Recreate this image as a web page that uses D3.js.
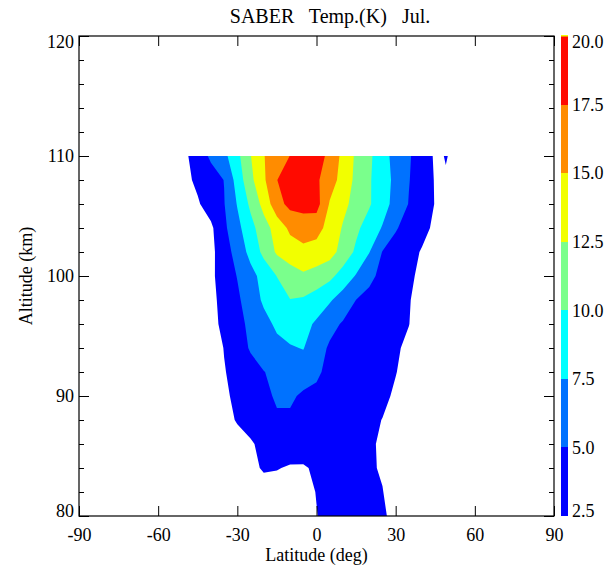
<!DOCTYPE html>
<html><head><meta charset="utf-8">
<script src="https://cdn.jsdelivr.net/npm/d3@7"></script>
<style>
body{margin:0;background:#fff}
svg{display:block}
text{font-family:"Liberation Serif","Times New Roman",serif;fill:#000}
</style>
</head><body>
<svg id="chart" width="612" height="571"></svg>
<script>
// ---- data ----
const title = "SABER   Temp.(K)   Jul.";
const xLabel = "Latitude (deg)";
const yLabel = "Altitude (km)";
// grid nodes
const lats = [-60,-50,-45,-40,-35,-30,-25,-20,-15,-10,-5,0,5,10,15,20,25,30,35,40,45,47,49,51,60];
const alts = [110,108,106,104,102,100,98,96,94,92,90,88,86,84,82,80];
// temperature amplitude (K), one row per altitude (top to bottom), one value per latitude
const row110 = [0,2.0,3.75,5.4,6.85,9.35,12.4,14.9,16.25,17.55,19.0,18.9,16.7,14.4,12.1,10.5,8.4,6.7,5.25,3.75,2.2,2.0,2.8,2.0,0];
const row108 = [0,1.9,2.97,3.98,5.05,8.5,11.85,14.6,17.45,19.0,19.5,17.9,16.1,14.1,11.9,10.25,8.6,6.9,5.1,3.7,2.35,1.8,2.0,1.5,0];
const row106 = [0,0.9,2.25,3.6,4.9,7.65,10.5,13.3,16.6,18.2,18.3,18.45,14.8,13.15,11.65,10.25,8.5,6.65,4.9,3.65,2.4,1.5,1.0,1.0,0];
const row104 = [0,0.3,1.0,2.06,4.5,6.8,9.15,11.45,13.55,15.5,16.3,15.9,14.1,12.3,10.5,8.9,7.33,5.2,4.1,3.1,2.1,1.2,0.8,0.5,0];
const row102 = [0,0.2,0.8,1.9,3.87,5.94,8.24,10.63,12.85,13.8,14.3,14.0,13.5,11.55,9.56,7.58,4.9,4.05,3.19,2.33,1.3,0.8,0.5,0.3,0];
const row100 = [0,0.2,0.8,2.04,3.57,5.1,6.7,8.35,10.05,11.3,12.1,11.5,10.63,8.98,7.32,5.51,4.43,3.64,2.85,2.06,1.2,0.7,0.4,0.2,0];
const row98  = [0,0.2,0.8,1.91,3.24,4.57,6.27,7.86,8.93,9.95,9.7,8.9,7.78,6.39,4.98,4.4,3.8,3.2,2.6,1.9,1.1,0.6,0.3,0.2,0];
const row96  = [0,0.2,0.7,1.8,3.04,4.28,5.52,6.78,7.9,8.6,8.3,7.13,5.71,4.78,4.33,3.88,3.43,2.98,2.53,1.8,1.0,0.5,0.3,0.1,0];
const row94  = [0,0.1,0.5,1.25,2.58,3.83,5.24,6.2,6.9,7.3,7.6,6.0,4.7,4.45,4.0,3.57,3.13,2.69,2.2,1.5,0.8,0.4,0.2,0.1,0];
const row92  = [0,0,0.5,1.5,2.38,3.23,4.08,4.93,5.6,6.2,6.3,5.6,4.02,3.8,3.5,3.2,2.9,2.55,2.0,1.3,0.6,0.3,0.1,0.1,0];
const row90  = [0,0,0.4,1.3,2.17,2.93,3.69,4.45,5.3,5.4,4.6,4.2,3.9,3.6,3.3,3.0,2.8,2.3,1.6,1.0,0.5,0.2,0.1,0,0];
const row88  = [0,0,0.3,0.8,1.7,2.7,3.5,4.2,4.7,4.6,4.2,3.9,3.6,3.3,3.0,2.8,2.47,1.8,1.2,0.6,0.2,0.1,0,0,0];
const row86  = [0,0,0.2,0.5,1.0,1.6,2.2,3.2,3.6,3.7,3.6,3.5,3.3,3.1,2.9,2.7,2.3,1.6,1.0,0.5,0.2,0,0,0,0];
const row84  = [0,0,0,0.2,0.5,1.0,1.8,2.8,2.6,2.3,2.3,2.8,3.0,3.0,2.9,2.7,2.35,1.5,0.8,0.3,0.1,0,0,0,0];
const row82  = [0,0,0,0,0.2,0.6,1.0,1.3,1.6,1.9,2.0,2.55,3.0,3.1,3.0,2.8,2.55,1.8,1.0,0.4,0.1,0,0,0,0];
const row80  = [0,0,0,0,0.1,0.5,0.8,1.0,1.2,1.3,1.5,2.45,3.0,3.1,3.1,2.9,2.65,2.2,1.3,0.6,0.2,0,0,0,0];
const grid = [row110,row108,row106,row104,row102,row100,row98,row96,row94,row92,row90,row88,row86,row84,row82,row80];

const levels = [2.5,5,7.5,10,12.5,15,17.5,20];
const levelColors = ["#0000ff","#0072ff","#00ffff","#7aff8c","#f2ff00","#ff8c00","#ff0a00"];
const topColor = "#f2ff00";
const xTicks = [-90,-60,-30,0,30,60,90];
const yTicks = [80,90,100,110,120];
const yMinor = [82,84,86,88,92,94,96,98,102,104,106,108,112,114,116,118];

// ---- layout ----
const PL = 79, PR = 554, PT = 36, PB = 516;
const svg = d3.select("#chart");
const x = d3.scaleLinear().domain([-90,90]).range([PL,PR]);
const y = d3.scaleLinear().domain([80,120]).range([PB,PT]);

// ---- contours ----
const nx = lats.length, ny = alts.length;
const colToLat = d3.scaleLinear().domain(lats.map((d,i)=>i+0.5)).range(lats);
const rowToAlt = d3.scaleLinear().domain(alts.map((d,i)=>i+0.5)).range(alts);
const flat = grid.flat();
const contourSet = d3.contours().size([nx,ny]).thresholds(levels.slice(0,7))(flat);
const proj = d3.geoTransform({point(px,py){ this.stream.point(x(colToLat(px)), y(rowToAlt(py))); }});
const path = d3.geoPath(proj);

svg.append("defs").append("clipPath").attr("id","clip")
  .append("rect").attr("x",PL).attr("y",y(110)).attr("width",PR-PL).attr("height",y(80)-y(110));

svg.append("g").attr("clip-path","url(#clip)")
  .selectAll("path").data(contourSet).join("path")
  .attr("d",path)
  .attr("fill",(d,i)=>levelColors[i])
  .attr("stroke","none");

// ---- axes ----
const fmtInt = d => String(d);
const axG = svg.append("g");
const axBottom = d3.axisBottom(x).tickValues(xTicks).tickSizeInner(-10).tickSizeOuter(0).tickPadding(12).tickFormat(fmtInt);
const axTop = d3.axisTop(x).tickValues(xTicks).tickSizeInner(-10).tickSizeOuter(0).tickFormat("");
const axLeft = d3.axisLeft(y).tickValues(yTicks).tickSizeInner(-10).tickSizeOuter(0).tickPadding(5).tickFormat(fmtInt);
const axLeftMinor = d3.axisLeft(y).tickValues(yMinor).tickSizeInner(-5).tickSizeOuter(0).tickFormat("");
const axRight = d3.axisRight(y).tickValues(yTicks).tickSizeInner(-10).tickSizeOuter(0).tickFormat("");
const axRightMinor = d3.axisRight(y).tickValues(yMinor).tickSizeInner(-5).tickSizeOuter(0).tickFormat("");

function styleAxis(g){
  g.select(".domain").remove();
  g.selectAll("line").attr("stroke","#000").attr("stroke-width",1);
  g.selectAll("text").style("font-family","'Liberation Serif','Times New Roman',serif").style("font-size","18px").attr("fill","#000");
}
axG.append("g").attr("transform",`translate(0,${PB})`).call(axBottom).call(styleAxis);
axG.append("g").attr("transform",`translate(0,${PT})`).call(axTop).call(styleAxis);
const gLeft = axG.append("g").attr("transform",`translate(${PL},0)`).call(axLeft).call(styleAxis);
gLeft.selectAll(".tick text").attr("dy",d => d===120 ? "0.62em" : d===80 ? "0.0em" : "0.32em");
axG.append("g").attr("transform",`translate(${PL},0)`).call(axLeftMinor).call(styleAxis);
axG.append("g").attr("transform",`translate(${PR},0)`).call(axRight).call(styleAxis);
axG.append("g").attr("transform",`translate(${PR},0)`).call(axRightMinor).call(styleAxis);

svg.append("rect").attr("x",PL).attr("y",PT).attr("width",PR-PL).attr("height",PB-PT)
  .attr("fill","none").attr("stroke","#000").attr("stroke-width",1.2);

// ---- colorbar ----
const cbX = 561, cbW = 7;
const cy = d3.scaleLinear().domain([2.5,20]).range([PB,PT]);
const cb = svg.append("g");
cb.selectAll("rect.band").data(levelColors).join("rect").attr("class","band")
  .attr("x",cbX).attr("width",cbW)
  .attr("y",(d,i)=>cy(levels[i+1]))
  .attr("height",(d,i)=>cy(levels[i])-cy(levels[i+1]))
  .attr("fill",d=>d).attr("shape-rendering","crispEdges");
cb.append("rect").attr("x",cbX).attr("width",cbW).attr("y",PT-1).attr("height",1.5).attr("fill",topColor);
const cbAxis = d3.axisRight(cy).tickValues(levels).tickSize(0).tickPadding(4).tickFormat(d3.format(".1f"));
const gCb = cb.append("g").attr("transform",`translate(${cbX+cbW},0)`).call(cbAxis).call(styleAxis);
gCb.selectAll(".tick text").attr("dy",d => d===20 ? "0.62em" : d===2.5 ? "0.05em" : "0.32em");

// ---- titles ----
svg.append("text").attr("x",330).attr("y",23).attr("text-anchor","middle")
  .style("font-size","20px").style("white-space","pre").attr("xml:space","preserve").text(title);
svg.append("text").attr("x",(PL+PR)/2).attr("y",561).attr("text-anchor","middle")
  .style("font-size","18px").text(xLabel);
svg.append("text").attr("transform",`translate(32,${(PT+PB)/2}) rotate(-90)`).attr("text-anchor","middle")
  .style("font-size","18px").text(yLabel);
</script>
</body></html>
